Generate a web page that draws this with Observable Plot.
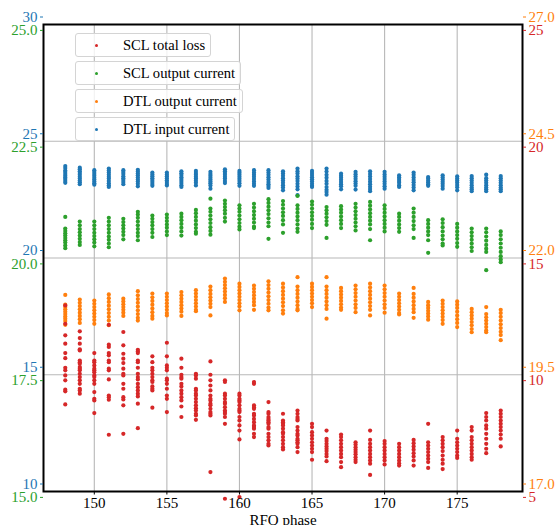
<!DOCTYPE html>
<html><head><meta charset="utf-8">
<script src="https://cdn.jsdelivr.net/npm/d3@7"></script>
<script src="https://cdn.jsdelivr.net/npm/@observablehq/plot@0.6"></script>
<style>
body{margin:0;background:#fff;}
#wrap{position:relative;width:555px;height:525px;overflow:hidden;font-family:"Liberation Serif","Times New Roman",serif;}
.leg{position:absolute;left:75px;height:22px;border:1px solid #d4d4d4;border-radius:3px;background:rgba(255,255,255,0.8);box-sizing:border-box;height:24px;}
.leg .mk{position:absolute;left:19px;top:10px;width:3px;height:3px;border-radius:50%;}
.leg .tx{position:absolute;left:47px;top:2px;font-size:14.6px;color:#000;white-space:nowrap;line-height:18px;}
</style></head><body><div id="wrap"></div>
<script>
const phases = [148,149,150,151,152,153,154,155,156,157,158,159,160,161,162,163,164,165,166,167,168,169,170,171,172,173,174,175,176,177,178];

const dtlInput = [
[23.94,23.85,23.75,23.68,23.60,23.52,23.45,23.38,23.30,23.22],
[23.87,23.80,23.72,23.64,23.56,23.48,23.40,23.32,23.24,23.16],
[23.76,23.68,23.60,23.52,23.44,23.36,23.28,23.20,23.14],
[23.83,23.75,23.66,23.57,23.48,23.40,23.30,23.20,23.12,23.04],
[23.76,23.68,23.60,23.50,23.42,23.34,23.25,23.16],
[23.78,23.70,23.62,23.54,23.45,23.36,23.28,23.18,23.07],
[23.66,23.58,23.50,23.42,23.34,23.26,23.17,23.09],
[23.66,23.58,23.50,23.42,23.33,23.25,23.17,23.11],
[23.71,23.63,23.55,23.46,23.38,23.30,23.21,23.12,23.04],
[23.73,23.64,23.56,23.48,23.40,23.31,23.22,23.11],
[23.69,23.60,23.52,23.44,23.36,23.28,23.20,23.11,22.97],
[23.80,23.72,23.64,23.56,23.48,23.40,23.30,23.21],
[23.73,23.65,23.57,23.48,23.39,23.30,23.20,23.09],
[23.76,23.66,23.57,23.48,23.38,23.28,23.18,23.09],
[23.76,23.66,23.56,23.46,23.36,23.26,23.16,23.08,23.00],
[23.71,23.62,23.52,23.42,23.32,23.22,23.12,23.02,22.90],
[23.83,23.72,23.62,23.50,23.40,23.30,23.18,23.06,22.94,22.69],
[23.73,23.64,23.55,23.46,23.37,23.28,23.18,23.09,23.04],
[23.83,23.70,23.56,23.44,23.30,23.18,23.04,22.92,22.83,22.71],
[23.61,23.52,23.44,23.35,23.26,23.16,23.07,22.94],
[23.69,23.59,23.49,23.39,23.29,23.19,23.09,22.93],
[23.71,23.60,23.49,23.38,23.27,23.16,23.05,22.95,22.86],
[23.69,23.58,23.48,23.38,23.28,23.18,23.07,22.97],
[23.54,23.46,23.38,23.30,23.22,23.12,23.04],
[23.66,23.56,23.45,23.34,23.24,23.13,23.02,22.90],
[23.47,23.40,23.32,23.24,23.16,23.09],
[23.54,23.45,23.36,23.27,23.18,23.08,22.97],
[23.50,23.41,23.32,23.23,23.13,23.03,22.90],
[23.51,23.42,23.32,23.22,23.12,23.02,22.94,22.86],
[23.57,23.42,23.32,23.22,23.12,23.02,22.94,22.86],
[23.51,23.42,23.32,23.22,23.12,23.02,22.94,22.86]
];

const sclOutput = [
[20.88,20.63,20.58,20.53,20.48,20.43,20.38,20.33,20.27,20.21],
[20.78,20.70,20.62,20.55,20.48,20.41,20.34,20.28],
[20.78,20.70,20.62,20.54,20.47,20.40,20.33,20.25],
[20.86,20.78,20.70,20.62,20.54,20.46,20.39,20.31,20.23],
[20.84,20.77,20.70,20.63,20.56,20.49,20.40],
[20.99,20.93,20.86,20.78,20.70,20.62,20.54,20.47,20.38],
[20.91,20.84,20.77,20.70,20.62,20.54,20.45],
[20.93,20.86,20.79,20.72,20.65,20.57,20.49],
[20.95,20.88,20.81,20.73,20.65,20.57,20.48],
[21.03,20.96,20.88,20.80,20.72,20.64,20.56,20.52],
[21.27,21.06,20.99,20.91,20.83,20.75,20.66,20.58,20.50],
[21.23,21.16,21.09,21.02,20.95,20.86,20.78],
[21.13,21.06,20.99,20.91,20.83,20.75,20.67,20.61],
[21.16,21.08,21.00,20.92,20.84,20.76,20.67,20.64],
[21.26,21.18,21.10,21.02,20.94,20.85,20.76,20.68,20.41],
[21.22,21.14,21.06,20.98,20.90,20.81,20.72,20.54],
[21.33,21.13,21.05,20.97,20.89,20.81,20.72,20.63,20.56],
[21.21,21.14,21.06,20.98,20.90,20.82,20.73,20.64],
[21.09,21.02,20.95,20.87,20.79,20.71,20.43],
[21.11,21.04,20.97,20.89,20.81,20.73,20.64],
[21.16,21.08,21.00,20.92,20.84,20.76,20.68,20.59],
[21.20,21.12,21.04,20.96,20.88,20.80,20.72,20.62,20.38],
[21.13,21.05,20.97,20.89,20.81,20.73,20.65,20.57],
[20.95,20.88,20.80,20.72,20.64,20.56],
[21.06,20.97,20.88,20.79,20.70,20.62,20.43],
[20.81,20.73,20.65,20.57,20.49,20.38,20.11],
[20.83,20.75,20.66,20.57,20.48,20.40,20.31,20.27],
[20.73,20.65,20.57,20.49,20.41,20.32,20.24],
[20.63,20.55,20.47,20.39,20.31,20.23,20.15],
[20.63,20.55,20.46,20.37,20.28,20.20,20.13,19.74],
[20.57,20.49,20.40,20.31,20.22,20.13,20.04,19.97,19.91]
];

const dtlOutput = [
[21.21,21.00,20.95,20.90,20.85,20.80,20.75,20.70,20.65,20.57],
[21.11,21.04,20.97,20.90,20.83,20.76,20.69,20.61],
[21.09,21.02,20.95,20.88,20.81,20.74,20.67,20.59],
[21.22,21.14,21.06,20.98,20.90,20.82,20.74,20.66,20.56],
[21.13,21.07,21.01,20.95,20.89,20.83,20.76],
[21.29,21.20,21.12,21.04,20.96,20.88,20.80,20.72,20.66],
[21.24,21.16,21.08,21.00,20.92,20.84,20.76,20.70],
[21.24,21.17,21.10,21.03,20.96,20.89,20.82,20.77],
[21.27,21.20,21.13,21.06,20.99,20.92,20.85,20.76],
[21.31,21.24,21.17,21.10,21.03,20.96,20.89,20.86],
[21.39,21.31,21.23,21.16,21.09,21.02,20.95,20.77],
[21.56,21.49,21.42,21.35,21.28,21.21,21.14,21.06],
[21.45,21.38,21.31,21.24,21.17,21.10,21.03,20.96,20.88],
[21.41,21.34,21.27,21.20,21.13,21.06,20.99,20.89],
[21.50,21.42,21.34,21.26,21.18,21.10,21.02,20.94,20.88],
[21.45,21.37,21.29,21.21,21.13,21.05,20.97,20.88,20.81],
[21.59,21.39,21.31,21.23,21.15,21.07,20.99,20.91,20.88],
[21.45,21.38,21.31,21.24,21.17,21.10,21.03,20.95],
[21.59,21.39,21.31,21.23,21.15,21.07,20.99,20.91,20.70],
[21.36,21.29,21.22,21.15,21.08,21.01,20.94,20.89],
[21.41,21.33,21.25,21.17,21.09,21.01,20.93,20.84],
[21.45,21.37,21.29,21.21,21.13,21.05,20.97,20.89,20.77],
[21.41,21.33,21.25,21.17,21.09,21.01,20.93,20.83],
[21.24,21.17,21.10,21.03,20.96,20.89,20.82,20.79],
[21.36,21.23,21.15,21.07,20.99,20.91,20.84,20.72],
[21.06,20.99,20.93,20.87,20.81,20.75,20.68],
[21.09,21.02,20.95,20.88,20.81,20.74,20.67,20.59],
[21.07,21.00,20.93,20.85,20.77,20.69,20.61,20.52],
[20.91,20.84,20.77,20.70,20.63,20.56,20.48,20.41],
[20.95,20.80,20.73,20.66,20.59,20.52,20.45,20.41],
[20.89,20.82,20.74,20.66,20.58,20.50,20.42,20.35,20.24]
];

const sclLoss = [
[12.97,12.18,11.69,11.33,10.93,10.71,10.30,10.19,9.97,9.76,9.36,9.29,8.73],
[11.86,11.57,11.33,11.09,11.04,10.61,10.54,10.47,10.33,10.26,10.19,10.04,9.90,9.76,9.61,9.40,9.33,9.19],
[10.93,10.61,10.54,10.40,10.26,10.19,10.11,9.97,9.90,9.76,9.61,9.26,8.97,8.90,8.36],
[12.14,11.29,11.19,10.93,10.83,10.61,10.54,10.26,10.19,9.80,9.11,9.04,8.93,7.43],
[11.83,11.26,10.90,10.69,10.50,10.26,10.04,9.97,9.61,9.40,9.04,8.94,8.69,7.47],
[11.07,11.00,10.93,10.61,10.54,10.30,10.04,9.90,9.80,9.61,9.47,9.33,9.19,9.07,8.76,7.71],
[10.79,10.54,10.30,10.19,10.04,9.90,9.76,9.69,9.50,9.40,9.33,8.59],
[11.37,10.79,10.40,10.30,10.19,9.83,9.76,9.61,9.40,9.11,8.97,8.40],
[10.69,10.30,10.00,9.90,9.83,9.61,9.50,9.33,9.19,9.04,8.90,8.64,8.19],
[10.04,9.97,9.83,9.40,9.33,9.19,9.11,8.97,8.83,8.69,8.57,8.47,8.33,8.26,8.07],
[10.57,10.00,9.76,9.54,9.33,9.11,8.97,8.90,8.76,8.69,8.54,8.40,8.33,8.26,5.83],
[9.76,9.69,9.19,9.11,8.97,8.83,8.76,8.61,8.47,8.40,8.33,8.19,7.90,4.69],
[9.19,9.11,8.97,8.90,8.83,8.69,8.54,8.47,8.40,8.19,8.04,7.83,7.61,7.23,4.76],
[9.69,9.61,8.69,8.61,8.54,8.33,8.26,8.11,7.97,7.83,7.76,7.69,7.47,7.33],
[8.83,8.40,8.33,8.19,8.11,8.04,7.97,7.90,7.76,7.69,7.47,7.33,7.19,7.04,6.97],
[8.33,8.04,7.97,7.90,7.83,7.69,7.54,7.47,7.33,7.19,7.04,6.90,6.80],
[8.47,8.33,8.19,8.11,8.04,7.76,7.61,7.47,7.40,7.26,7.19,7.11,7.04,6.90,6.69],
[7.90,7.76,7.54,7.40,7.26,7.11,6.97,6.83,6.69,6.36],
[7.61,7.26,7.16,7.04,6.93,6.83,6.73,6.61,6.50,6.30],
[7.44,7.33,7.19,7.04,6.90,6.76,6.61,6.47,6.26,6.04],
[7.11,7.01,6.90,6.79,6.69,6.59,6.47,6.36,6.26],
[7.61,7.21,7.04,6.90,6.76,6.61,6.47,6.33,6.19,5.71],
[7.16,7.04,6.90,6.76,6.61,6.47,6.33,6.16],
[7.04,6.90,6.76,6.61,6.47,6.33,6.21,6.11],
[7.21,7.07,6.93,6.79,6.64,6.50,6.33,6.11],
[7.90,7.11,6.97,6.83,6.69,6.54,6.40,6.26,6.01],
[7.33,7.19,7.04,6.90,6.73,6.54,6.36,6.19,5.96],
[7.61,7.26,7.11,6.97,6.83,6.69,6.54,6.44],
[7.76,7.61,7.33,7.19,7.04,6.90,6.76,6.61,6.47,6.36],
[8.36,8.19,8.04,7.83,7.69,7.47,7.26,7.04,6.83,6.64],
[8.47,8.33,8.19,8.04,7.90,7.76,7.61,7.44,7.26,6.93]
];

const xTicks = [150,155,160,165,170,175];
const blueTicks = [10,15,20,25,30];
const greenTicks = [15,17.5,20,22.5,25];
const orangeTicks = [17,19.5,22,24.5,27];
const redTicks = [5,10,15,20,25];
const legendLabels = ["SCL total loss","SCL output current","DTL output current","DTL input current"];
const xLabel = "RFQ phase";

const C = {blue:"#1f77b4", green:"#2ca02c", orange:"#ff7f0e", red:"#d62728"};

const series = [
  {name:"DTL input current", values:dtlInput, ticks:blueTicks, color:C.blue, digits:0},
  {name:"SCL output current", values:sclOutput, ticks:greenTicks, color:C.green, digits:1},
  {name:"DTL output current", values:dtlOutput, ticks:orangeTicks, color:C.orange, digits:1},
  {name:"SCL total loss", values:sclLoss, ticks:redTicks, color:C.red, digits:0}
];
series.forEach(s => {
  const d0 = s.ticks[0], d1 = s.ticks[s.ticks.length-1];
  s.norm = v => (v - d0) / (d1 - d0);
  s.unnorm = n => d0 + n * (d1 - d0);
  s.rows = [];
  phases.forEach((p, i) => s.values[i].forEach(v => s.rows.push({phase: p, v, n: s.norm(v)})));
});

const font = "Liberation Serif, Times New Roman, serif";
const axisFor = (s, anchor, dy) => Plot.axisY({
  anchor, ticks: s.ticks.map(s.norm),
  tickFormat: n => s.unnorm(n).toFixed(s.digits),
  color: s.color, tickSize: 3, tickPadding: 3, dy, label: null, fontSize: 15
});

const plot = Plot.plot({
  width: 555, height: 525,
  marginLeft: 43, marginRight: 33, marginTop: 24, marginBottom: 34,
  style: {fontFamily: font, fontSize: "15px", background: "white"},
  x: {domain: [146.5, 179.5]},
  y: {domain: [0, 1]},
  marks: [
    Plot.gridX(xTicks, {stroke: "#b8b8b8", strokeOpacity: 1, strokeWidth: 1.1}),
    Plot.gridY(blueTicks.map(series[0].norm), {stroke: "#b8b8b8", strokeOpacity: 1, strokeWidth: 1.1}),
    ...series.map(s => Plot.dot(s.rows, {x: "phase", y: "n", r: 2.1, fill: s.color, stroke: null})),
    Plot.frame({stroke: "black", strokeWidth: 2}),
    Plot.axisX({ticks: xTicks, tickSize: 3.5, tickPadding: 2, label: null, fontSize: 15, color: "#000"}),
    axisFor(series[0], "left", -7.5),
    axisFor(series[1], "left", 5.9),
    axisFor(series[2], "right", -7.5),
    axisFor(series[3], "right", 5.9),
    Plot.text([xLabel], {frameAnchor: "bottom", text: d => d, dy: 23, lineAnchor: "top", fontSize: 15, fill: "#000"})
  ]
});
const wrap = document.getElementById("wrap");
wrap.appendChild(plot);

const legColors = [C.red, C.green, C.orange, C.blue];
const legTops = [33, 61, 89, 117];
legendLabels.forEach((lab, i) => {
  const b = document.createElement("div");
  b.className = "leg";
  b.style.top = legTops[i] + "px";
  const mk = document.createElement("div");
  mk.className = "mk"; mk.style.background = legColors[i];
  const tx = document.createElement("span");
  tx.className = "tx"; tx.textContent = lab;
  b.appendChild(mk); b.appendChild(tx);
  wrap.appendChild(b);
  b.style.width = (47 + tx.getBoundingClientRect().width + 7) + "px";
});
</script></body></html>
